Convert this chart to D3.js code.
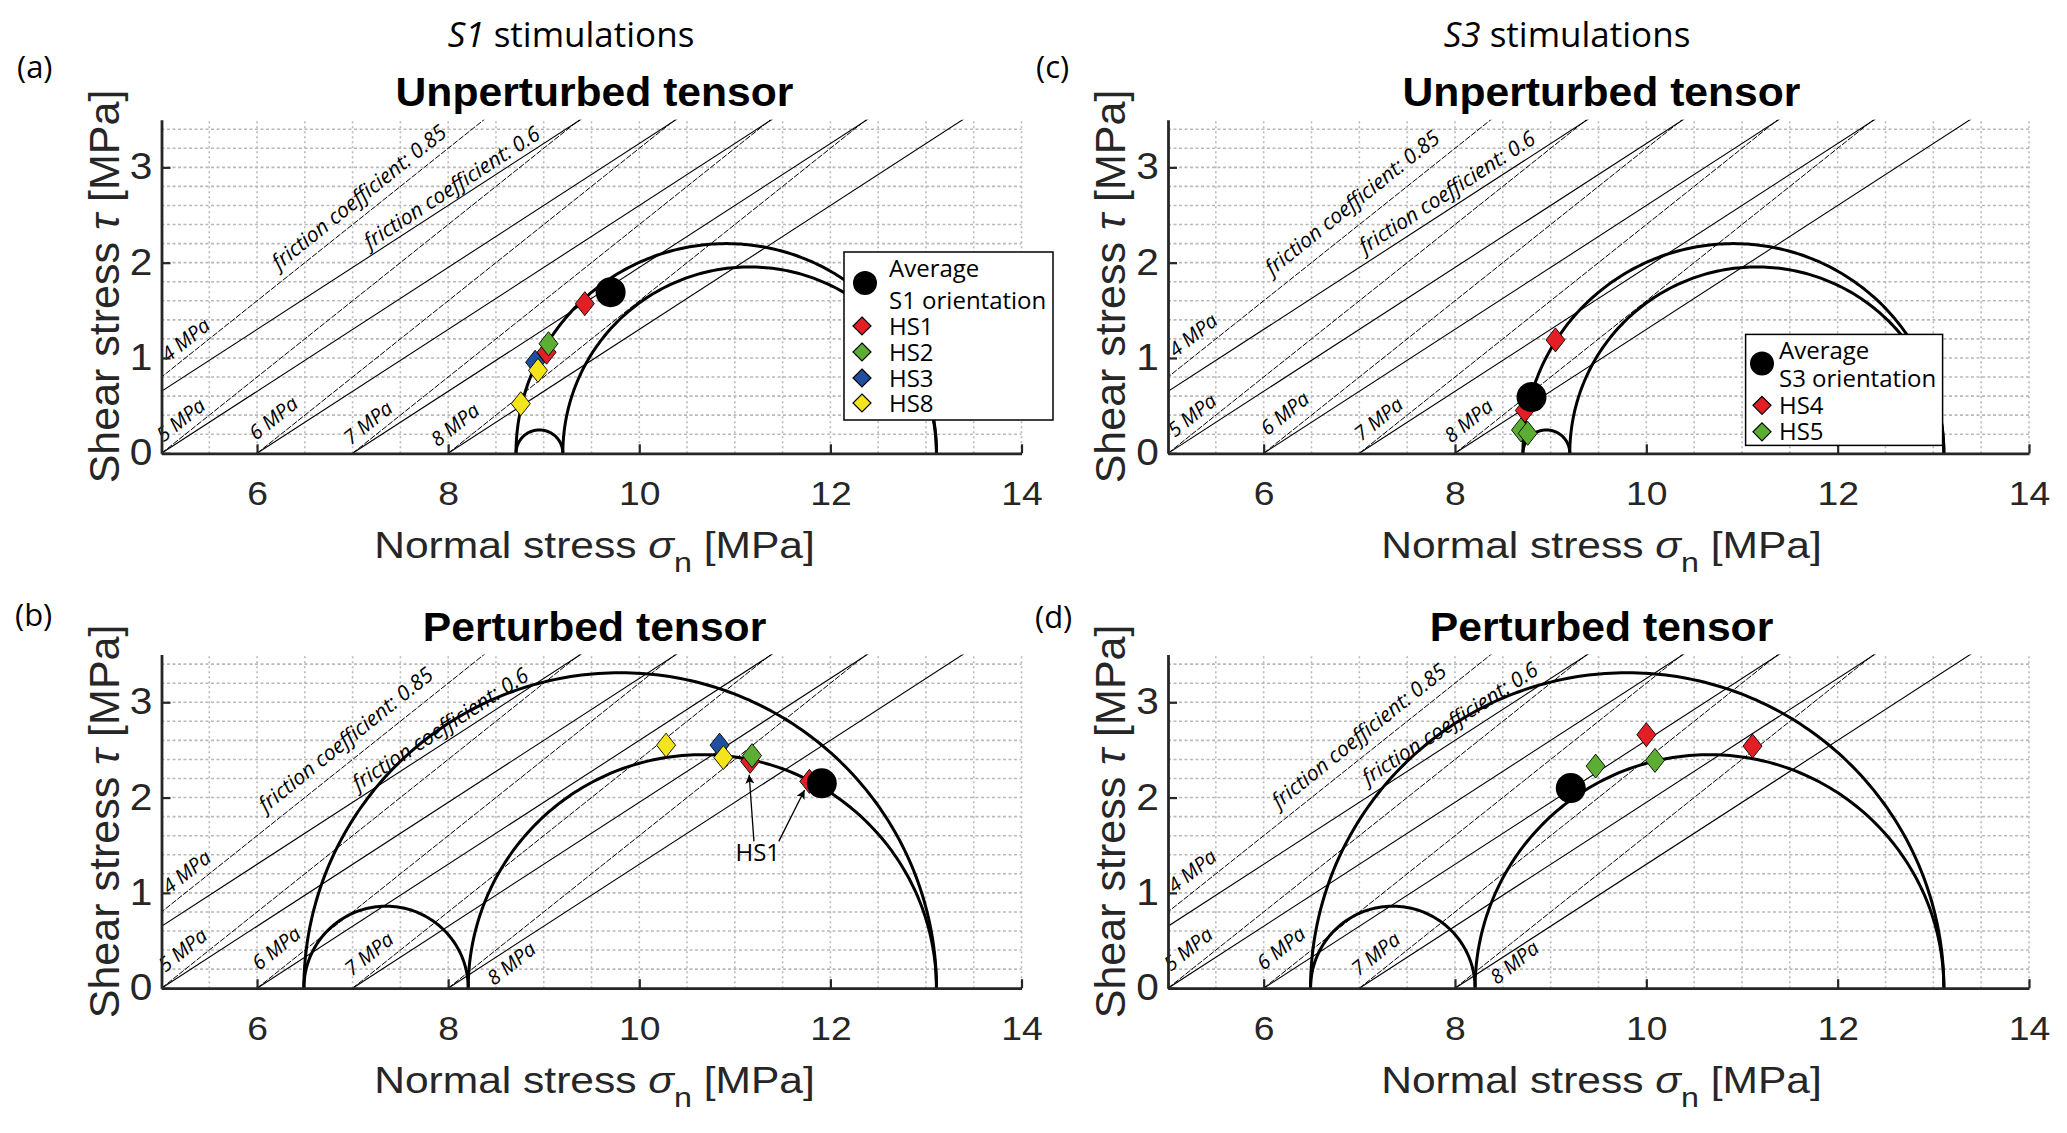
<!DOCTYPE html>
<html>
<head>
<meta charset="utf-8">
<script src="https://cdn.jsdelivr.net/npm/d3@7"></script>
<style>
  body { margin: 0; background: #fff; }
</style>
</head>
<body>
<svg id="fig" width="2067" height="1133"></svg>
<script>
// ---------- data ----------
var porePressures = [4, 5, 6, 7, 8];          // MPa, each pair of lines starts at (P, 0)
var frictionSlopes = [0.8, 0.65];              // slopes as drawn (dashed, solid)
var frictionLabels = ["friction coefficient: 0.85", "friction coefficient: 0.6"];
var xTicks = [6, 8, 10, 12, 14];
var yTicks = [0, 1, 2, 3];

// principal stresses [s3, s2, s1] in MPa
var sigmaUnperturbed = [8.71, 9.20, 13.11];
var sigmaPerturbed = [6.49, 8.21, 13.11];

// points [normal stress, shear stress]
var aAverage = [[9.70, 1.69]];
var aHS1 = [[9.43, 1.57], [9.03, 1.06]];
var aHS2 = [[9.05, 1.15]];
var aHS3 = [[8.91, 0.955]];
var aHS8 = [[8.94, 0.87], [8.76, 0.52]];

var bAverage = [[11.91, 2.15]];
var bHS1 = [[11.16, 2.38], [11.78, 2.17]];
var bHS2 = [[11.18, 2.44]];
var bHS3 = [[10.84, 2.55]];
var bHS8 = [[10.28, 2.55], [10.88, 2.42]];

var cAverage = [[8.80, 0.59]];
var cHS4 = [[9.05, 1.19], [8.73, 0.45]];
var cHS5 = [[8.69, 0.245], [8.76, 0.21]];

var dAverage = [[9.21, 2.10]];
var dHS4 = [[10.0, 2.66], [11.11, 2.54]];
var dHS5 = [[9.47, 2.33], [10.09, 2.39]];

// where the line labels sit (data coords)
var mpaPosA = [[5.07, 0.95], [5.02, 0.11], [5.99, 0.13], [6.98, 0.08], [7.89, 0.06]];
var mpaPosB = [[5.08, 0.98], [5.04, 0.16], [6.02, 0.18], [6.99, 0.12], [8.48, 0.02]];
var mpaPosC = [[5.08, 1.00], [5.07, 0.16], [6.04, 0.18], [7.02, 0.12], [7.96, 0.10]];
var mpaPosD = [[5.07, 0.99], [5.03, 0.17], [6.00, 0.18], [6.99, 0.12], [8.44, 0.03]];
var fricPosA = [[6.23, 1.92], [7.18, 2.14]];
var fricPosB = [[6.09, 1.84], [7.06, 2.07]];
var fricPosC = [[6.09, 1.86], [7.06, 2.09]];
var fricPosD = [[6.16, 1.88], [7.09, 2.13]];

var red = "#e31e25", green = "#5cae32", blue = "#1f4f9e", yellow = "#f4e41c";

var panels = [
  { letter: "(a)", lx: 17, ly: 78, left: 161.5, right: 1021.5, top: 119.7, bottom: 453.3,
    title: "Unperturbed tensor", sigma: sigmaUnperturbed, avg: aAverage,
    series: [{n: "HS1", c: red, p: aHS1}, {n: "HS2", c: green, p: aHS2}, {n: "HS3", c: blue, p: aHS3}, {n: "HS8", c: yellow, p: aHS8}],
    mpa: mpaPosA, fric: fricPosA,
    legend: {x: 844, y: 252, w: 209, h: 168, cx: 865, cy: 283, mx: 862, tx: 889,
             head: ["Average", "S1 orientation"], headY: [268, 300], rowY: [326, 352, 378, 403]} },
  { letter: "(b)", lx: 15, ly: 626, left: 161.5, right: 1021.5, top: 654.6, bottom: 988.2,
    title: "Perturbed tensor", sigma: sigmaPerturbed, avg: bAverage,
    series: [{n: "HS1", c: red, p: bHS1}, {n: "HS2", c: green, p: bHS2}, {n: "HS3", c: blue, p: bHS3}, {n: "HS8", c: yellow, p: bHS8}],
    mpa: mpaPosB, fric: fricPosB, note: true },
  { letter: "(c)", lx: 1036, ly: 78, left: 1168, right: 2029, top: 119.7, bottom: 453.3,
    title: "Unperturbed tensor", sigma: sigmaUnperturbed, avg: cAverage,
    series: [{n: "HS4", c: red, p: cHS4}, {n: "HS5", c: green, p: cHS5}],
    mpa: mpaPosC, fric: fricPosC,
    legend: {x: 1745.6, y: 334.4, w: 197, h: 111, cx: 1762, cy: 363.5, mx: 1762, tx: 1779,
             head: ["Average", "S3 orientation"], headY: [350.8, 378], rowY: [405.3, 431.8]} },
  { letter: "(d)", lx: 1035, ly: 628, left: 1168, right: 2029, top: 654.6, bottom: 988.2,
    title: "Perturbed tensor", sigma: sigmaPerturbed, avg: dAverage,
    series: [{n: "HS4", c: red, p: dHS4}, {n: "HS5", c: green, p: dHS5}],
    mpa: mpaPosD, fric: fricPosD }
];

var svg = d3.select("#fig");
var sansFont = "'Liberation Sans', Arial, sans-serif";
var openFont = "'Open Sans', 'Noto Sans', sans-serif";

svg.append("rect").attr("width", 2067).attr("height", 1133).attr("fill", "#fff");

// column headers
[["S1", 571], ["S3", 1567]].forEach(function (h) {
  var t = svg.append("text").attr("x", h[1]).attr("y", 47).attr("text-anchor", "middle")
    .attr("font-family", openFont).attr("font-size", 35);
  t.append("tspan").attr("font-style", "italic").text(h[0]);
  t.append("tspan").text("  stimulations");
});

var defs = svg.append("defs");
defs.append("marker").attr("id", "arrow").attr("viewBox", "0 0 10 10")
  .attr("refX", 10).attr("refY", 5).attr("markerWidth", 12).attr("markerHeight", 9)
  .attr("markerUnits", "userSpaceOnUse").attr("orient", "auto")
  .append("path").attr("d", "M0,0 L10,5 L0,10 L2.5,5 Z").attr("fill", "#000");

panels.forEach(function (P, i) {
  var x = d3.scaleLinear().domain([5, 14]).range([P.left, P.right]);
  var y = d3.scaleLinear().domain([0, 3.5]).range([P.bottom, P.top]);
  var g = svg.append("g");

  defs.append("clipPath").attr("id", "clip" + i).append("rect")
    .attr("x", P.left).attr("y", P.top).attr("width", P.right - P.left).attr("height", P.bottom - P.top);

  // grid
  var gx = d3.range(5.5, 14.01, 0.5), gy = d3.range(0.2, 3.41, 0.2);
  g.append("g").selectAll("line").data(gx).join("line")
    .attr("x1", d => x(d)).attr("x2", d => x(d)).attr("y1", P.bottom).attr("y2", P.top)
    .attr("stroke", "#b9b9b9").attr("stroke-width", 1.6).attr("stroke-dasharray", "2,3");
  g.append("g").selectAll("line").data(gy).join("line")
    .attr("x1", P.left).attr("x2", P.right).attr("y1", d => y(d)).attr("y2", d => y(d))
    .attr("stroke", "#b9b9b9").attr("stroke-width", 1.6).attr("stroke-dasharray", "3,2.5");

  // friction lines
  var lines = [];
  porePressures.forEach(function (p) {
    frictionSlopes.forEach(function (m, k) { lines.push({p: p, m: m, k: k}); });
  });
  var lg = g.append("g").attr("clip-path", "url(#clip" + i + ")");
  lg.selectAll("line").data(lines).join("line")
    .attr("x1", d => x(d.p)).attr("y1", y(0))
    .attr("x2", d => x(d.p + 4 / d.m)).attr("y2", y(4))
    .attr("stroke", "#000")
    .attr("stroke-width", d => d.k === 0 ? 1 : 1.1)
    .attr("stroke-dasharray", d => d.k === 0 ? "6,1.5" : null);

  // line labels
  var ang = -Math.atan(frictionSlopes[0]) * 180 / Math.PI;
  g.append("g").selectAll("text").data(porePressures).join("text")
    .attr("transform", (d, j) => "translate(" + x(P.mpa[j][0]) + "," + y(P.mpa[j][1]) + ") rotate(" + ang + ")")
    .attr("font-family", openFont).attr("font-style", "italic").attr("font-size", 20)
    .text(d => d + " MPa");
  g.append("g").selectAll("text").data(frictionLabels).join("text")
    .attr("transform", (d, j) => "translate(" + x(P.fric[j][0]) + "," + y(P.fric[j][1]) + ") rotate(" + (-Math.atan(frictionSlopes[j]) * 180 / Math.PI) + ")")
    .attr("font-family", openFont).attr("font-style", "italic").attr("font-size", 21)
    .text(d => d);

  // Mohr circles
  var s = P.sigma;
  var circles = [[s[0], s[1]], [s[1], s[2]], [s[0], s[2]]];
  var arc = d3.line().x(d => x(d[0])).y(d => y(d[1]));
  g.append("g").selectAll("path").data(circles).join("path")
    .attr("d", function (c) {
      var cen = (c[0] + c[1]) / 2, r = (c[1] - c[0]) / 2;
      var pts = d3.range(0, 181, 1).map(a => [cen - r * Math.cos(a * Math.PI / 180), r * Math.sin(a * Math.PI / 180)]);
      return arc(pts);
    })
    .attr("fill", "none").attr("stroke", "#000").attr("stroke-width", 3);

  // markers
  var diamond = "M0,-12 L9.5,0 L0,12 L-9.5,0 Z";
  P.series.forEach(function (sr) {
    g.append("g").selectAll("path").data(sr.p).join("path")
      .attr("transform", d => "translate(" + x(d[0]) + "," + y(d[1]) + ")")
      .attr("d", diamond).attr("fill", sr.c).attr("stroke", "#000").attr("stroke-width", 0.9);
  });
  g.append("g").selectAll("circle").data(P.avg).join("circle")
    .attr("cx", d => x(d[0])).attr("cy", d => y(d[1])).attr("r", 15).attr("fill", "#000");

  // HS1 annotation in (b)
  if (P.note) {
    var arrows = [[[11.20, 1.54], [11.15, 2.24]], [[11.46, 1.54], [11.73, 2.08]]];
    g.append("g").selectAll("line").data(arrows).join("line")
      .attr("x1", d => x(d[0][0])).attr("y1", d => y(d[0][1]))
      .attr("x2", d => x(d[1][0])).attr("y2", d => y(d[1][1]))
      .attr("stroke", "#000").attr("stroke-width", 1.3).attr("marker-end", "url(#arrow)");
    g.append("text").attr("x", x(11.24)).attr("y", y(1.335)).attr("text-anchor", "middle")
      .attr("font-family", openFont).attr("font-size", 24).text("HS1");
  }

  // axes
  var ax = g.append("g").attr("transform", "translate(0," + P.bottom + ")")
    .call(d3.axisBottom(x).tickValues(xTicks).tickFormat(d3.format("d"))
      .tickSizeInner(-9).tickSizeOuter(0).tickPadding(28.5));
  var ay = g.append("g").attr("transform", "translate(" + P.left + ",0)")
    .call(d3.axisLeft(y).tickValues(yTicks).tickFormat(d3.format("d"))
      .tickSizeInner(-9).tickSizeOuter(0).tickPadding(8));
  [ax, ay].forEach(function (a) {
    a.select(".domain").attr("stroke", "#262626").attr("stroke-width", 2.8);
    a.selectAll(".tick line").attr("stroke", "#262626").attr("stroke-width", 2.2);
    a.selectAll(".tick text").attr("font-family", sansFont).attr("fill", "#262626")
      .attr("transform", "scale(1.13,1)");
  });
  ax.selectAll(".tick text").attr("font-size", 33);
  ay.selectAll(".tick text").attr("font-size", 36);

  // titles and labels
  var cx = (P.left + P.right) / 2;
  g.append("text").attr("transform", "translate(" + (cx + 3) + "," + (P.top - 14) + ") scale(1.04,1)")
    .attr("text-anchor", "middle")
    .attr("font-family", sansFont).attr("font-weight", "bold").attr("font-size", 41).text(P.title);
  g.append("text").attr("x", P.lx).attr("y", P.ly).attr("font-family", openFont).attr("font-size", 31).text(P.letter);

  var xl = g.append("text").attr("transform", "translate(" + (cx + 3) + "," + (P.bottom + 105) + ") scale(1.15,1)")
    .attr("text-anchor", "middle")
    .attr("font-family", sansFont).attr("font-size", 37).attr("fill", "#262626");
  xl.append("tspan").text("Normal stress ");
  xl.append("tspan").attr("font-style", "italic").text("σ");
  xl.append("tspan").attr("font-size", 28).attr("dy", 14).text("n");
  xl.append("tspan").attr("dy", -14).text(" [MPa]");

  var yl = g.append("text")
    .attr("transform", "translate(" + (P.left - 43) + "," + ((P.top + P.bottom) / 2) + ") rotate(-90)")
    .attr("text-anchor", "middle").attr("font-family", sansFont).attr("font-size", 43).attr("fill", "#262626");
  yl.append("tspan").text("Shear stress  ");
  yl.append("tspan").attr("font-style", "italic").text("τ");
  yl.append("tspan").text("  [MPa]");

  // legend
  if (P.legend) {
    var L = P.legend;
    var lgd = g.append("g");
    lgd.append("rect").attr("x", L.x).attr("y", L.y).attr("width", L.w).attr("height", L.h)
      .attr("fill", "#fff").attr("stroke", "#000").attr("stroke-width", 1.5);
    lgd.append("circle").attr("cx", L.cx).attr("cy", L.cy).attr("r", 12).attr("fill", "#000");
    lgd.selectAll("text.h").data(L.head).join("text").attr("class", "h")
      .attr("x", L.tx).attr("y", (d, j) => L.headY[j]).attr("dy", "0.36em")
      .attr("font-family", openFont).attr("font-size", 24).text(d => d);
    lgd.selectAll("path").data(P.series).join("path")
      .attr("transform", (d, j) => "translate(" + L.mx + "," + L.rowY[j] + ")")
      .attr("d", "M0,-9 L9,0 L0,9 L-9,0 Z").attr("fill", d => d.c).attr("stroke", "#000").attr("stroke-width", 1.2);
    lgd.selectAll("text.r").data(P.series).join("text").attr("class", "r")
      .attr("x", L.tx).attr("y", (d, j) => L.rowY[j]).attr("dy", "0.36em")
      .attr("font-family", openFont).attr("font-size", 24).text(d => d.n);
  }
});
</script>
</body>
</html>
